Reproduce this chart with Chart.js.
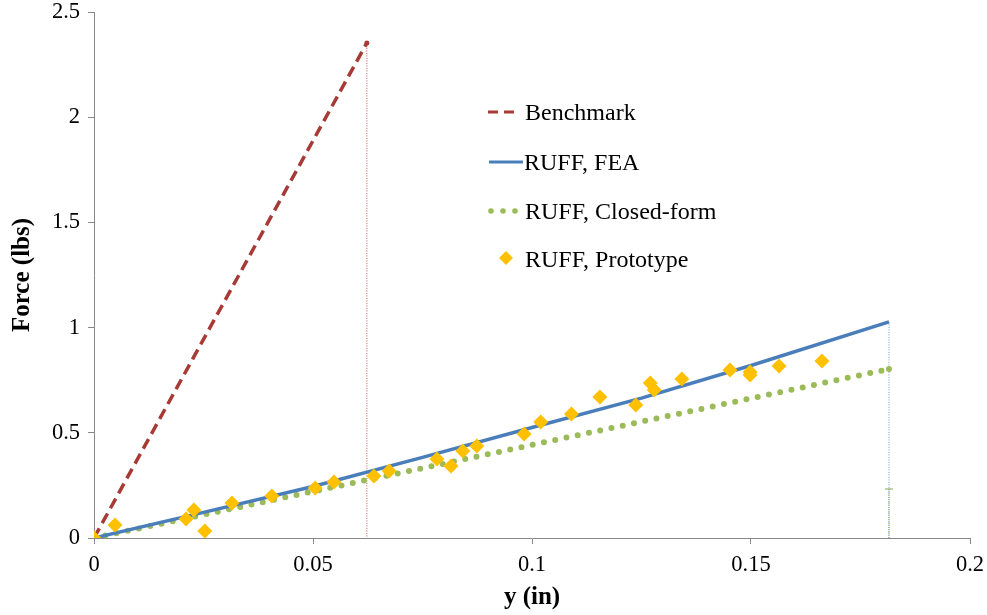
<!DOCTYPE html>
<html>
<head>
<meta charset="utf-8">
<script src="https://cdn.jsdelivr.net/npm/chart.js@4.4.0/dist/chart.umd.min.js"></script>
<style>
  html, body { margin: 0; padding: 0; background: #fff; }
  #wrap { position: relative; width: 987px; height: 615px; }
  #legend { position: absolute; left: 0; top: 0; pointer-events: none; }
  #legend text { font-family: "Liberation Serif", "Times New Roman", serif; font-size: 24px; fill: #000; }
</style>
</head>
<body>
<div id="wrap">
  <canvas id="myChart" width="987" height="615"></canvas>
  <svg id="legend" width="987" height="615">
    <line x1="488" y1="112" x2="514" y2="112" stroke="#A83A36" stroke-width="3" stroke-dasharray="10,6" />
    <text x="525" y="120">Benchmark</text>
    <line x1="489" y1="162" x2="523" y2="162" stroke="#4A7EBB" stroke-width="3" />
    <text x="524" y="170">RUFF, FEA</text>
    <circle cx="491" cy="211" r="2.8" fill="#9BBB59" />
    <circle cx="503" cy="211" r="2.8" fill="#9BBB59" />
    <circle cx="515" cy="211" r="2.8" fill="#9BBB59" />
    <text x="525" y="219">RUFF, Closed-form</text>
    <polygon points="506,251 513,258 506,265 499,258" fill="#FFC000" />
    <text x="525" y="267">RUFF, Prototype</text>
  </svg>
</div>
<script>
// valeurs
const benchX = [0, 0.0623];
const benchY = [0, 2.353];
const feaX = [0, 0.025, 0.05, 0.075, 0.1, 0.125, 0.15, 0.1815];
const feaY = [0, 0.122, 0.245, 0.383, 0.525, 0.665, 0.82, 1.027];
const closedX = [0, 0.1815];
const closedY = [0, 0.803];
const protoX = [0, 0.0048, 0.021, 0.0228, 0.0253, 0.0315, 0.0406, 0.0505, 0.0548, 0.0639,
  0.0674, 0.0783, 0.0815, 0.0842, 0.0874, 0.0982, 0.102, 0.109, 0.1155, 0.1237,
  0.127, 0.1279, 0.1342, 0.1452, 0.1498, 0.1498, 0.1564, 0.1662];
const protoY = [0, 0.062, 0.09, 0.133, 0.033, 0.166, 0.2, 0.238, 0.266, 0.295,
  0.318, 0.375, 0.342, 0.413, 0.437, 0.494, 0.551, 0.589, 0.67, 0.632,
  0.737, 0.703, 0.756, 0.798, 0.789, 0.775, 0.817, 0.841];
// lignes verticales (rappels)
const dropBenchY = [2.353, 0];
const dropFeaY = [1.027, 0];
const dropClosedY = [0.233, 0];
const xTicks = [0, 0.05, 0.1, 0.15, 0.2];
const yTicks = [0, 0.5, 1, 1.5, 2, 2.5];

const toPts = (xs, ys) => xs.map((x, i) => ({ x: x, y: ys[i] }));
const vert = (x, ys) => ys.map(y => ({ x: x, y: y }));

const font = { family: '"Liberation Serif", "Times New Roman", serif', size: 22.5 };
const titleFont = { family: '"Liberation Serif", "Times New Roman", serif', size: 25, weight: 'bold' };

const ctx = document.getElementById('myChart');

new Chart(ctx, {
  type: 'scatter',
  data: {
    datasets: [
      {
        label: 'RUFF, Prototype',
        data: toPts(protoX, protoY),
        pointStyle: 'rectRot',
        pointRadius: 7.5,
        pointBackgroundColor: '#FFC000',
        pointBorderColor: '#FFC000',
        pointBorderWidth: 0,
        showLine: false,
        order: 0
      },
      {
        label: 'Benchmark',
        data: toPts(benchX, benchY),
        showLine: true,
        borderColor: '#A83A36',
        borderWidth: 3.5,
        borderDash: [11, 6],
        pointRadius: 0,
        order: 1
      },
      {
        label: 'RUFF, FEA',
        data: toPts(feaX, feaY),
        showLine: true,
        borderColor: '#4A7EBB',
        borderWidth: 3.5,
        pointRadius: 0,
        order: 2
      },
      {
        label: 'RUFF, Closed-form',
        data: toPts(closedX, closedY),
        showLine: true,
        borderColor: '#9BBB59',
        borderWidth: 6,
        borderDash: [0, 11.5],
        borderCapStyle: 'round',
        pointRadius: [0, 3],
        pointBackgroundColor: '#9BBB59',
        pointBorderWidth: 0,
        order: 3
      },
      {
        label: 'drop1',
        data: vert(benchX[1], dropBenchY),
        showLine: true,
        borderColor: '#C9524F',
        borderWidth: 1,
        borderDash: [1, 1.5],
        pointRadius: [2.5, 0],
        pointBackgroundColor: '#A83A36',
        pointBorderWidth: 0,
        order: 4
      },
      {
        label: 'drop2',
        data: vert(feaX[feaX.length - 1], dropFeaY),
        showLine: true,
        borderColor: '#6F97CC',
        borderWidth: 1,
        borderDash: [1, 1.5],
        pointRadius: 0,
        order: 5
      },
      {
        label: 'drop3',
        data: vert(closedX[1], dropClosedY),
        showLine: true,
        borderColor: '#86A85E',
        borderWidth: 1,
        borderDash: [1, 1],
        pointStyle: 'line',
        pointRadius: [4, 0],
        pointBorderColor: '#86A85E',
        pointBorderWidth: 1,
        order: 4
      }
    ]
  },
  options: {
    responsive: false,
    animation: false,
    layout: { padding: { top: 12, right: 17, left: 0, bottom: 0 } },
    plugins: {
      legend: { display: false },
      tooltip: { enabled: false }
    },
    scales: {
      x: {
        type: 'linear',
        min: 0,
        max: 0.2,
        afterFit: s => {
          s.height = 77;
          s.paddingLeft = 0;
          s.paddingRight = 0;
        },
        afterBuildTicks: s => { s.ticks = xTicks.map(v => ({ value: v })); },
        grid: { drawOnChartArea: false, drawTicks: true, tickLength: 6, color: '#888' },
        border: { color: '#888', width: 1 },
        ticks: { font: font, color: '#000', padding: 8, maxRotation: 0,
          callback: v => String(v) },
        title: { display: true, text: 'y (in)', font: titleFont, color: '#000', padding: { top: 0, bottom: 2 } }
      },
      y: {
        type: 'linear',
        min: 0,
        max: 2.5,
        afterFit: s => {
          s.width = 94;
          s.paddingTop = 0;
          s.paddingBottom = 0;
        },
        afterBuildTicks: s => { s.ticks = yTicks.map(v => ({ value: v })); },
        grid: { drawOnChartArea: false, drawTicks: true, tickLength: 6, color: '#888' },
        border: { color: '#888', width: 1 },
        ticks: { font: font, color: '#000', padding: 8,
          callback: v => String(v) },
        title: { display: true, text: 'Force (lbs)', font: titleFont, color: '#000', padding: { top: 8, bottom: 0 } }
      }
    }
  }
});
</script>
</body>
</html>
